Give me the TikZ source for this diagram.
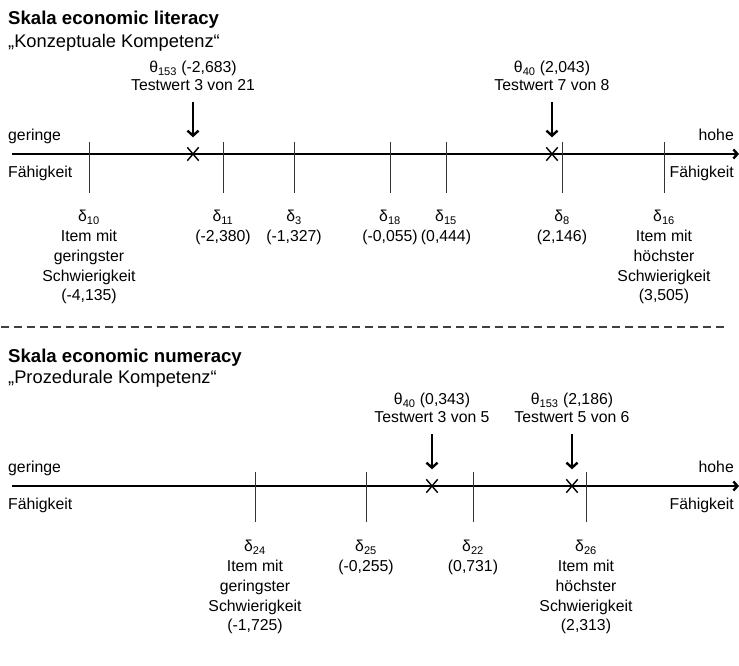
\documentclass[tikz,border=0pt]{standalone}
\usepackage{fontspec}
\setmainfont{Liberation Sans}
\usetikzlibrary{arrows.meta, shapes.misc, positioning}

\begin{document}
\begin{tikzpicture}[
    x=1pt, y=1pt,
    font=\fontsize{15.8}{19.8}\selectfont,
    axis/.style={line width=2.4pt, -{Straight Barb[length=4pt, width=9pt]}},
    tickline/.style={line width=1pt, black!80},
    xmark/.style={cross out, draw, line width=1.4pt, minimum width=10pt, minimum height=12pt, inner sep=0pt},
    pointer/.style={line width=2.4pt, -{Straight Barb[length=5pt, width=11pt]}, shorten <=11pt, shorten >=10pt},
    item/.style={align=center, inner sep=0pt},
    person/.style={align=center, inner sep=0pt, font=\fontsize{15.8}{18}\selectfont},
    side/.style={inner sep=0pt},
    heading/.style={anchor=base west, inner sep=0pt, font=\fontsize{18.6}{22}\selectfont\bfseries},
    subheading/.style={anchor=base west, inner sep=0pt, font=\fontsize{18.3}{22}\selectfont},
    sepline/.style={line width=1.3pt, black!75, dash pattern=on 8pt off 5pt}
]
    \useasboundingbox (0,0) rectangle (739,-665);

    % ==========================================
    % COORDINATES
    % ==========================================
    % Scale 1 (literacy): axis and tick ends
    \coordinate (ax1_start) at (12,-154);
    \coordinate (ax1_end) at (739,-154);

    \coordinate (d10) at (89,-193);
    \coordinate (d11) at (223,-193);
    \coordinate (d3) at (294,-193);
    \coordinate (d18) at (390,-193);
    \coordinate (d15) at (446,-193);
    \coordinate (d8) at (562,-193);
    \coordinate (d16) at (664,-193);

    % Scale 2 (numeracy): axis and tick ends
    \coordinate (ax2_start) at (12,-486);
    \coordinate (ax2_end) at (739,-486);

    \coordinate (d24) at (255,-522);
    \coordinate (d25) at (366,-522);
    \coordinate (d22) at (473,-522);
    \coordinate (d26) at (586,-522);


    % ==========================================
    % SCALE 1: ECONOMIC LITERACY
    % ==========================================
    \node[heading] (title1) at (8,-24) {Skala economic literacy};
    \node[subheading] (sub1) at (8,-47) {„Konzeptuale Kompetenz“};

    \node[side, anchor=base west] (lo1a) at (8,-140) {geringe};
    \node[side, anchor=base west] (lo1b) at (8,-177) {Fähigkeit};
    \node[side, anchor=base east] (hi1a) at (734,-140) {hohe};
    \node[side, anchor=base east] (hi1b) at (734,-177) {Fähigkeit};

    \draw[axis] (ax1_start) -- (ax1_end);

    % Item ticks
    \draw[tickline] (d10) -- ++(0,51);
    \draw[tickline] (d11) -- ++(0,51);
    \draw[tickline] (d3) -- ++(0,51);
    \draw[tickline] (d18) -- ++(0,51);
    \draw[tickline] (d15) -- ++(0,51);
    \draw[tickline] (d8) -- ++(0,51);
    \draw[tickline] (d16) -- ++(0,51);

    % Item labels
    \node[item, below=17pt of d10] (i10) {δ\textsubscript{10}\\Item mit\\geringster\\Schwierigkeit\\(-4,135)};
    \node[item, below=17pt of d11] (i11) {δ\textsubscript{11}\\(-2,380)};
    \node[item, below=17pt of d3] (i3) {δ\textsubscript{3}\\(-1,327)};
    \node[item, below=17pt of d18] (i18) {δ\textsubscript{18}\\(-0,055)};
    \node[item, below=17pt of d15] (i15) {δ\textsubscript{15}\\(0,444)};
    \node[item, below=17pt of d8] (i8) {δ\textsubscript{8}\\(2,146)};
    \node[item, below=17pt of d16] (i16) {δ\textsubscript{16}\\Item mit\\höchster\\Schwierigkeit\\(3,505)};

    % Persons
    \node[xmark] (x153) at (193,-154) {};
    \node[xmark] (x40) at (552,-154) {};

    \node[person, above=56pt of x153] (p153) {θ\textsubscript{153} (-2,683)\\Testwert 3 von 21};
    \node[person, above=56pt of x40] (p40) {θ\textsubscript{40} (2,043)\\Testwert 7 von 8};

    \draw[pointer] (p153.south) -- (x153.north);
    \draw[pointer] (p40.south) -- (x40.north);


    % ==========================================
    % SEPARATOR
    % ==========================================
    \coordinate (sep_l) at (1,-327);
    \coordinate (sep_r) at (724,-327);
    \draw[sepline] (sep_l) -- (sep_r);


    % ==========================================
    % SCALE 2: ECONOMIC NUMERACY
    % ==========================================
    \node[heading] (title2) at (8,-362) {Skala economic numeracy};
    \node[subheading] (sub2) at (8,-383) {„Prozedurale Kompetenz“};

    \node[side, anchor=base west] (lo2a) at (8,-472) {geringe};
    \node[side, anchor=base west] (lo2b) at (8,-509) {Fähigkeit};
    \node[side, anchor=base east] (hi2a) at (734,-472) {hohe};
    \node[side, anchor=base east] (hi2b) at (734,-509) {Fähigkeit};

    \draw[axis] (ax2_start) -- (ax2_end);

    % Item ticks
    \draw[tickline] (d24) -- ++(0,50);
    \draw[tickline] (d25) -- ++(0,50);
    \draw[tickline] (d22) -- ++(0,50);
    \draw[tickline] (d26) -- ++(0,50);

    % Item labels
    \node[item, below=18pt of d24] (i24) {δ\textsubscript{24}\\Item mit\\geringster\\Schwierigkeit\\(-1,725)};
    \node[item, below=18pt of d25] (i25) {δ\textsubscript{25}\\(-0,255)};
    \node[item, below=18pt of d22] (i22) {δ\textsubscript{22}\\(0,731)};
    \node[item, below=18pt of d26] (i26) {δ\textsubscript{26}\\Item mit\\höchster\\Schwierigkeit\\(2,313)};

    % Persons
    \node[xmark] (y40) at (432,-486) {};
    \node[xmark] (y153) at (572,-486) {};

    \node[person, above=56pt of y40] (q40) {θ\textsubscript{40} (0,343)\\Testwert 3 von 5};
    \node[person, above=56pt of y153] (q153) {θ\textsubscript{153} (2,186)\\Testwert 5 von 6};

    \draw[pointer] (q40.south) -- (y40.north);
    \draw[pointer] (q153.south) -- (y153.north);

\end{tikzpicture}
\end{document}
